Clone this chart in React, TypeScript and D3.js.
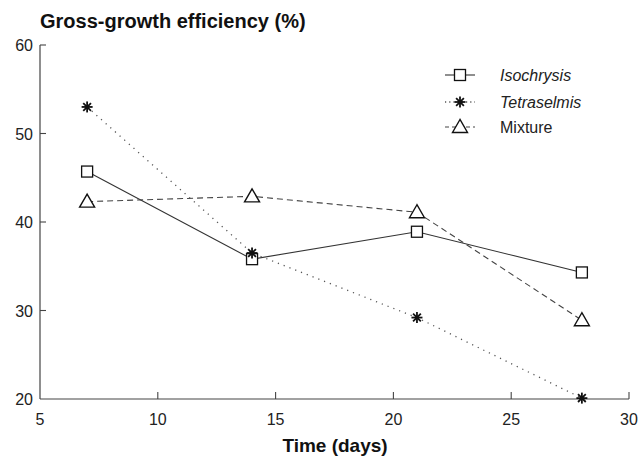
import React from "react";
import * as d3 from "d3";

const days = [7, 14, 21, 28];
const isochrysis = [45.7, 35.8, 38.9, 34.3];
const tetraselmis = [53.0, 36.5, 29.2, 20.1];
const mixture = [42.3, 42.9, 41.1, 28.9];
const xTicks = [5, 10, 15, 20, 25, 30];
const yTicks = [20, 30, 40, 50, 60];

const W = 639, H = 459;
const x = d3.scaleLinear().domain([5, 30]).range([40, 629]);
const y = d3.scaleLinear().domain([20, 60]).range([399, 45]);

const FONT = "'Liberation Sans', Arial, Helvetica, sans-serif";

function Square({ cx, cy }: { cx: number; cy: number }) {
  return <rect x={cx - 5.5} y={cy - 5.5} width={11} height={11} fill="white" stroke="#111" strokeWidth={1.3} />;
}
function Star({ cx, cy }: { cx: number; cy: number }) {
  const r = 5.5;
  const lines = [0, 45, 90, 135].map((a) => {
    const rad = (a * Math.PI) / 180;
    return (
      <line key={a} x1={cx - r * Math.cos(rad)} y1={cy - r * Math.sin(rad)} x2={cx + r * Math.cos(rad)} y2={cy + r * Math.sin(rad)} stroke="#111" strokeWidth={1.8} />
    );
  });
  return <g>{lines}<circle cx={cx} cy={cy} r={2} fill="#111" /></g>;
}
function Tri({ cx, cy }: { cx: number; cy: number }) {
  const h = 13, w = 15;
  const pts = `${cx},${cy - h / 2 - 1} ${cx - w / 2},${cy + h / 2 - 1} ${cx + w / 2},${cy + h / 2 - 1}`;
  return <polygon points={pts} fill="white" stroke="#111" strokeWidth={1.4} strokeLinejoin="miter" />;
}

export default function App() {
  const line = d3.line<number>().x((_, i) => x(days[i])).y((d) => y(d));
  const series = [
    { name: "Isochrysis", vals: isochrysis, dash: "none", color: "#333", width: 1.1, italic: true, M: Square },
    { name: "Tetraselmis", vals: tetraselmis, dash: "1.2 5", color: "#555", width: 1.3, italic: true, M: Star },
    { name: "Mixture", vals: mixture, dash: "6 4", color: "#444", width: 1.1, italic: false, M: Tri },
  ];
  const legendY = [75, 102, 127];
  return (
    <svg width={W} height={H} style={{ position: "absolute", left: 0, top: 0, background: "white" }} fontFamily={FONT}>
      <rect width={W} height={H} fill="white" />
      <text x={40} y={28} fontSize={20} fontWeight="bold" fill="#111">Gross-growth efficiency (%)</text>
      {/* axes */}
      <line x1={x(5)} y1={y(60)} x2={x(5)} y2={y(20)} stroke="#444" strokeWidth={1.2} />
      <line x1={x(5)} y1={y(20)} x2={x(30)} y2={y(20)} stroke="#444" strokeWidth={1.2} />
      {yTicks.map((t) => (
        <g key={"y" + t}>
          {t > 20 && <line x1={x(5)} x2={x(5) + 6} y1={y(t)} y2={y(t)} stroke="#444" strokeWidth={1.1} />}
          <text x={33} y={y(t) + 6} fontSize={16} textAnchor="end" fill="#222">{t}</text>
        </g>
      ))}
      {xTicks.map((t) => (
        <g key={"x" + t}>
          {t > 5 && <line x1={x(t)} x2={x(t)} y1={y(20)} y2={y(20) - 7} stroke="#444" strokeWidth={1.1} />}
          <text x={x(t)} y={425} fontSize={16} textAnchor="middle" fill="#222">{t}</text>
        </g>
      ))}
      <text x={335} y={452} fontSize={19} fontWeight="bold" textAnchor="middle" fill="#111">Time (days)</text>
      {series.map((s) => (
        <path key={s.name} d={line(s.vals) || ""} fill="none" stroke={s.color} strokeWidth={s.width} strokeDasharray={s.dash} />
      ))}
      {series.map((s) => (
        <g key={s.name + "m"}>
          {s.vals.map((v, i) => <s.M key={i} cx={x(days[i])} cy={y(v)} />)}
        </g>
      ))}
      {series.map((s, i) => (
        <g key={s.name + "l"}>
          <line x1={445} x2={475} y1={legendY[i]} y2={legendY[i]} stroke={s.color} strokeWidth={s.width} strokeDasharray={s.dash === "none" ? "none" : s.dash === "6 4" ? "4 3" : "1.2 3"} />
          <s.M cx={460} cy={legendY[i]} />
          <text x={500} y={legendY[i] + 6} fontSize={16} fontStyle={s.italic ? "italic" : "normal"} fill="#222">{s.name}</text>
        </g>
      ))}
    </svg>
  );
}
